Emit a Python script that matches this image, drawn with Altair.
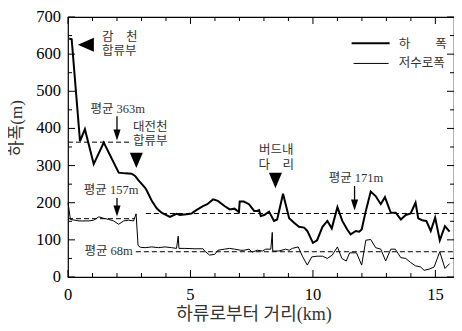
import altair as alt
import pandas as pd

# ---- data ----
width_km = [0.05, 0.15, 0.49, 0.69, 1.05, 1.46, 2.07, 2.34, 2.6, 2.74, 2.88, 3.15, 3.22, 3.42, 3.62,
            3.82, 4.16, 4.43, 4.57, 4.84, 5.04, 5.24, 5.51, 5.69, 5.92, 6.12, 6.39, 6.6, 6.8, 6.98,
            7.01, 7.18, 7.39, 7.6, 7.73, 7.8, 7.87, 8.01, 8.21, 8.41, 8.54, 8.78, 9.03, 9.23, 9.43,
            9.64, 9.77, 10.0, 10.17, 10.39, 10.59, 10.77, 11.0, 11.2, 11.4, 11.54, 11.75, 11.89, 11.99,
            12.16, 12.36, 12.56, 12.77, 12.94, 13.18, 13.38, 13.59, 13.79, 13.99, 14.19, 14.3, 14.46,
            14.63, 14.81, 14.99, 15.18, 15.39, 15.58]
width_m = [642, 640, 366, 398, 304, 362, 281, 279, 278, 272, 260, 240, 232, 205, 185,
           173, 162, 170, 167, 169, 171, 180, 191, 196, 209, 205, 191, 182, 184, 175,
           203, 203, 196, 178, 178, 180, 164, 167, 176, 151, 155, 224, 158, 146, 135,
           133, 124, 92, 99, 135, 151, 131, 188, 151, 128, 115, 124, 122, 128,
           178, 230, 218, 196, 215, 173, 173, 155, 167, 171, 200, 158, 153,
           151, 124, 160, 99, 137, 122]

low_km = [0.0, 0.1, 0.45, 0.85, 1.05, 1.26, 1.46, 1.66, 1.86, 2.07, 2.27, 2.47, 2.68, 2.78, 2.86,
          2.95, 3.15, 3.42, 3.69, 3.96, 4.23, 4.43, 4.5, 4.53, 4.77, 5.18, 5.51, 5.58, 5.78, 5.99,
          6.12, 6.39, 6.6, 6.8, 7.05, 7.18, 7.39, 7.52, 7.73, 7.94, 8.07, 8.28, 8.34, 8.36, 8.61,
          8.88, 9.03, 9.16, 9.4, 9.57, 9.77, 9.95, 10.17, 10.39, 10.59, 10.79, 11.0, 11.18, 11.36,
          11.5, 11.78, 11.99, 12.16, 12.36, 12.56, 12.77, 12.97, 13.18, 13.36, 13.59, 13.79, 13.99,
          14.19, 14.4, 14.54, 14.74, 14.95, 15.18, 15.39, 15.58]
low_m = [200, 155, 151, 151, 153, 162, 158, 155, 151, 142, 151, 153, 151, 170, 85,
         80, 79, 81, 79, 81, 79, 77, 110, 77, 77, 76, 76, 70, 59, 61,
         72, 75, 77, 75, 72, 72, 75, 67, 72, 70, 75, 75, 120, 70, 70,
         75, 72, 77, 81, 56, 32, 54, 56, 56, 50, 59, 81, 50, 43,
         65, 65, 32, 99, 101, 79, 75, 43, 75, 75, 52, 50, 39,
         30, 27, 18, 21, 27, 68, 23, 36]

XMAX = 15.76
YMAX = 700

mean_val = [363, 157, 171, 68]
mean_from = [0, 0, 3.18, 2.77]
mean_to = [2.58, 2.71, XMAX, XMAX]

x_label_values = [0, 5, 10, 15]
y_label_values = [0, 100, 200, 300, 400, 500, 600, 700]
x_minor_values = [v for v in range(0, 16) if v % 5 != 0]
y_minor_values = [v for v in range(0, 701, 50) if v % 100 != 0]

x_title = "하류로부터 거리(km)"
y_title = "하폭(m)"

W, H = 386, 260
MAJ, MIN = 7, 4          # tick lengths in pixels

SERIF = "Liberation Serif, Noto Sans CJK KR"
TXT = "#333333"

xs = alt.Scale(domain=[0, XMAX], nice=False, zero=False)
ys = alt.Scale(domain=[0, YMAX], nice=False)

df_w = pd.DataFrame({"km": width_km, "m": width_m})
df_l = pd.DataFrame({"km": low_km, "m": low_m})
df_mean = pd.DataFrame({"v": mean_val, "x1": mean_from, "x2": mean_to})

XN = alt.X("km:Q", scale=xs, axis=None)
YN = alt.Y("m:Q", scale=ys, axis=None)

thick = alt.Chart(df_w).mark_line(color="black", strokeWidth=2).encode(x=XN, y=YN)
thin = alt.Chart(df_l).mark_line(color="black", strokeWidth=1).encode(x=XN, y=YN)

means = alt.Chart(df_mean).mark_rule(color="black", strokeWidth=1, strokeDash=[5, 3]).encode(
    x=alt.X("x1:Q", scale=xs, axis=None), x2="x2:Q", y=alt.Y("v:Q", scale=ys, axis=None))

left_txt = pd.DataFrame({
    "x": [1.39, 1.39, 2.65, 2.65, 13.5, 13.5],
    "y": [647, 608, 404, 366, 628, 576],
    "t": ["감　천", "합류부", "대전천", "합류부", "하　　폭", "저수로폭"],
})
center_txt = pd.DataFrame({
    "x": [2.03, 1.76, 1.66, 11.76, 8.5, 8.5],
    "y": [453, 233, 70, 266, 342, 301],
    "t": ["평균 363m", "평균 157m", "평균 68m", "평균 171m", "버드내", "다　리"],
})
TX = alt.X("x:Q", scale=xs, axis=None)
TY = alt.Y("y:Q", scale=ys, axis=None)
t_left = alt.Chart(left_txt).mark_text(align="left", baseline="middle", font=SERIF,
                                       fontSize=12.5, color=TXT).encode(x=TX, y=TY, text="t:N")
t_center = alt.Chart(center_txt).mark_text(align="center", baseline="middle", font=SERIF,
                                           fontSize=12.5, color=TXT).encode(x=TX, y=TY, text="t:N")

tri_left = alt.Chart(pd.DataFrame({"x": [0.73], "y": [625]})).mark_point(
    shape="M1,-0.875L1,0.875L-1,0Z", size=256, filled=True, color="black", opacity=1).encode(
    x=TX, y=TY)
tri_down = alt.Chart(pd.DataFrame({"x": [2.79, 8.47], "y": [314, 260]})).mark_point(
    shape="M-0.84,-1L0.84,-1L0,1Z", size=240, filled=True, color="black", opacity=1).encode(
    x=TX, y=TY)

arr = pd.DataFrame({"x": [2.0, 2.0, 11.7], "top": [433, 213, 245], "bot": [390, 185, 203],
                    "head": [382, 178, 194]})
arr_shaft = alt.Chart(arr).mark_rule(color="black", strokeWidth=1.3).encode(
    x=TX, y=alt.Y("top:Q", scale=ys, axis=None), y2="bot:Q")
arr_head = alt.Chart(arr).mark_point(shape="M-0.65,-1L0.65,-1L0,1Z", size=121, filled=True,
                                     color="black", opacity=1).encode(
    x=TX, y=alt.Y("head:Q", scale=ys, axis=None))

leg = pd.DataFrame({"x1": [11.58], "x2": [13.13], "y": [629]})
leg2 = pd.DataFrame({"x1": [11.66], "x2": [13.09], "y": [575]})
LX = alt.X("x1:Q", scale=xs, axis=None)
leg_thick = alt.Chart(leg).mark_rule(color="black", strokeWidth=2).encode(x=LX, x2="x2:Q", y=TY)
leg_thin = alt.Chart(leg2).mark_rule(color="black", strokeWidth=1).encode(x=LX, x2="x2:Q", y=TY)

# tick labels and axis titles
xl = alt.Chart(pd.DataFrame({"v": x_label_values})).mark_text(
    font=SERIF, fontSize=16.5, color="black", align="center", baseline="middle").encode(
    x=alt.X("v:Q", scale=xs, axis=None), y=alt.value(H + 18), text=alt.Text("v:Q", format="d"))
yl = alt.Chart(pd.DataFrame({"v": y_label_values})).mark_text(
    font=SERIF, fontSize=16.5, color="black", align="right", baseline="middle").encode(
    y=alt.Y("v:Q", scale=ys, axis=None), x=alt.value(-7), text=alt.Text("v:Q", format="d"))
xt = alt.Chart(pd.DataFrame({"t": [x_title]})).mark_text(
    font=SERIF, fontSize=18, color=TXT, align="center", baseline="middle").encode(
    x=alt.value(186), y=alt.value(H + 38), text="t:N")
yt = alt.Chart(pd.DataFrame({"t": [y_title]})).mark_text(
    font=SERIF, fontSize=17, color=TXT, align="center", baseline="middle", angle=270).encode(
    x=alt.value(-51), y=alt.value(111), text="t:N")

# inward ticks on all four sides, drawn through the scales
XPX = XMAX / W   # km per pixel
YPX = YMAX / H   # m per pixel


def x_ticks(vals, size):
    d = pd.DataFrame({"p": vals})
    X = alt.X("p:Q", scale=xs, axis=None)
    bot = alt.Chart(d).mark_rule(color="black", strokeWidth=1).encode(
        x=X, y=alt.Y(datum=0, scale=ys, axis=None), y2=alt.Y2(datum=size * YPX))
    top = alt.Chart(d).mark_rule(color="black", strokeWidth=1).encode(
        x=X, y=alt.Y(datum=YMAX, scale=ys, axis=None), y2=alt.Y2(datum=YMAX - size * YPX))
    return [bot, top]


def y_ticks(vals, size):
    d = pd.DataFrame({"p": vals})
    Y = alt.Y("p:Q", scale=ys, axis=None)
    left = alt.Chart(d).mark_rule(color="black", strokeWidth=1).encode(
        y=Y, x=alt.X(datum=0, scale=xs, axis=None), x2=alt.X2(datum=size * XPX))
    right = alt.Chart(d).mark_rule(color="black", strokeWidth=1).encode(
        y=Y, x=alt.X(datum=XMAX, scale=xs, axis=None), x2=alt.X2(datum=XMAX - size * XPX))
    return [left, right]


tick_layers = (x_ticks(x_label_values, MAJ) + x_ticks(x_minor_values, MIN)
               + y_ticks(y_label_values, MAJ) + y_ticks(y_minor_values, MIN))

chart = alt.layer(
    means, thin, thick, *tick_layers, xl, yl, xt, yt,
    t_left, t_center, tri_left, tri_down,
    arr_shaft, arr_head, leg_thick, leg_thin,
).properties(
    width=W, height=H,
    autosize=alt.AutoSizeParams(type="none"),
    padding={"left": 60, "top": 9, "right": 0, "bottom": 48},
    background="white",
).configure_view(stroke="black", strokeWidth=1.2)

chart.save("out.html", embed_options={"renderer": "svg", "actions": False})
